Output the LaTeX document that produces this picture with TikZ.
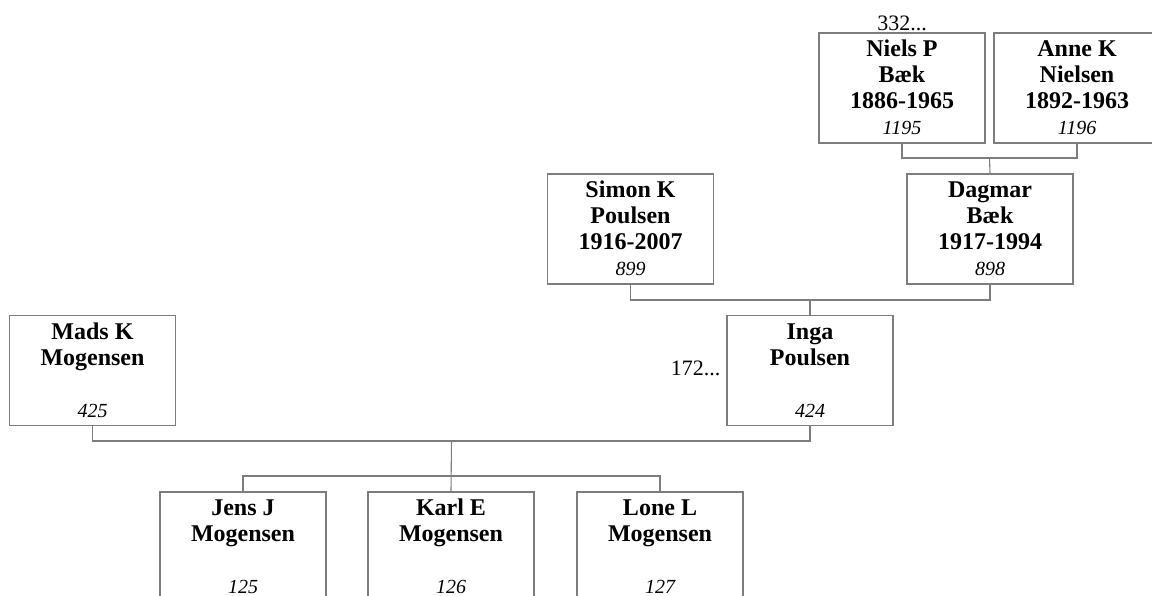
\documentclass[tikz,border=0pt]{standalone}
\usepackage{fontspec}
\setmainfont{Liberation Serif}
\definecolor{framegray}{RGB}{125,125,125}
\newcommand\pcard[4]{\strut#1\\#2\\#3\\{\fontsize{20}{26}\selectfont\mdseries\itshape\rule[-3pt]{0pt}{1pt}#4}}

\begin{document}
\begin{tikzpicture}[
        x=1pt, y=-1pt,
        person/.style={
                draw=framegray, line width=1.1pt,
                rectangle,
                minimum width=166pt, minimum height=110pt,
                inner sep=0pt,
                align=center,
                font=\fontsize{24}{26}\selectfont\bfseries
            },
        link/.style={draw=framegray, line width=1.1pt},
        more/.style={font=\fontsize{22}{26}\selectfont, inner sep=1pt}
    ]
    \useasboundingbox (0,0) rectangle (1152,596);

    % Great-grandparents
    \node[person] (niels) at (902,88) {\pcard{Niels P}{Bæk}{1886-1965}{1195}};
    \node[person] (anne) at (1077,88) {\pcard{Anne K}{Nielsen}{1892-1963}{1196}};
    \node[more, anchor=south] (nielsmore) at (niels.north) {332...};

    % Grandparents
    \node[person] (simon) at (630.5,229) {\pcard{Simon K}{Poulsen}{1916-2007}{899}};
    \node[person] (dagmar) at (990,229) {\pcard{Dagmar}{Bæk}{1917-1994}{898}};

    % Parents
    \node[person] (mads) at (92.5,370.5) {\pcard{Mads K}{Mogensen}{}{425}};
    \node[person] (inga) at (810,370.5) {\pcard{Inga}{Poulsen}{}{424}};
    \node[more, anchor=east] (ingamore) at ([xshift=-5pt, yshift=2pt]inga.west) {172...};

    % Children
    \node[person] (jens) at (243,547) {\pcard{Jens J}{Mogensen}{}{125}};
    \node[person] (karl) at (451,547) {\pcard{Karl E}{Mogensen}{}{126}};
    \node[person] (lone) at (660,547) {\pcard{Lone L}{Mogensen}{}{127}};

    % Junctions
    \coordinate (nielsanne) at (989.5,158);
    \coordinate (simondagmar) at (810,300);
    \coordinate (madsinga) at (451.5,441);
    \coordinate (kids) at (451.5,476);

    \draw[link] (niels.south) |- (nielsanne) -| (anne.south);
    \draw[link] (nielsanne) -- (dagmar.north);
    \draw[link] (simon.south) |- (simondagmar) -| (dagmar.south);
    \draw[link] (simondagmar) -- (inga.north);
    \draw[link] (mads.south) |- (madsinga) -| (inga.south);
    \draw[link] (madsinga) -- (karl.north);
    \draw[link] (jens.north) |- (kids) -| (lone.north);

\end{tikzpicture}
\end{document}
